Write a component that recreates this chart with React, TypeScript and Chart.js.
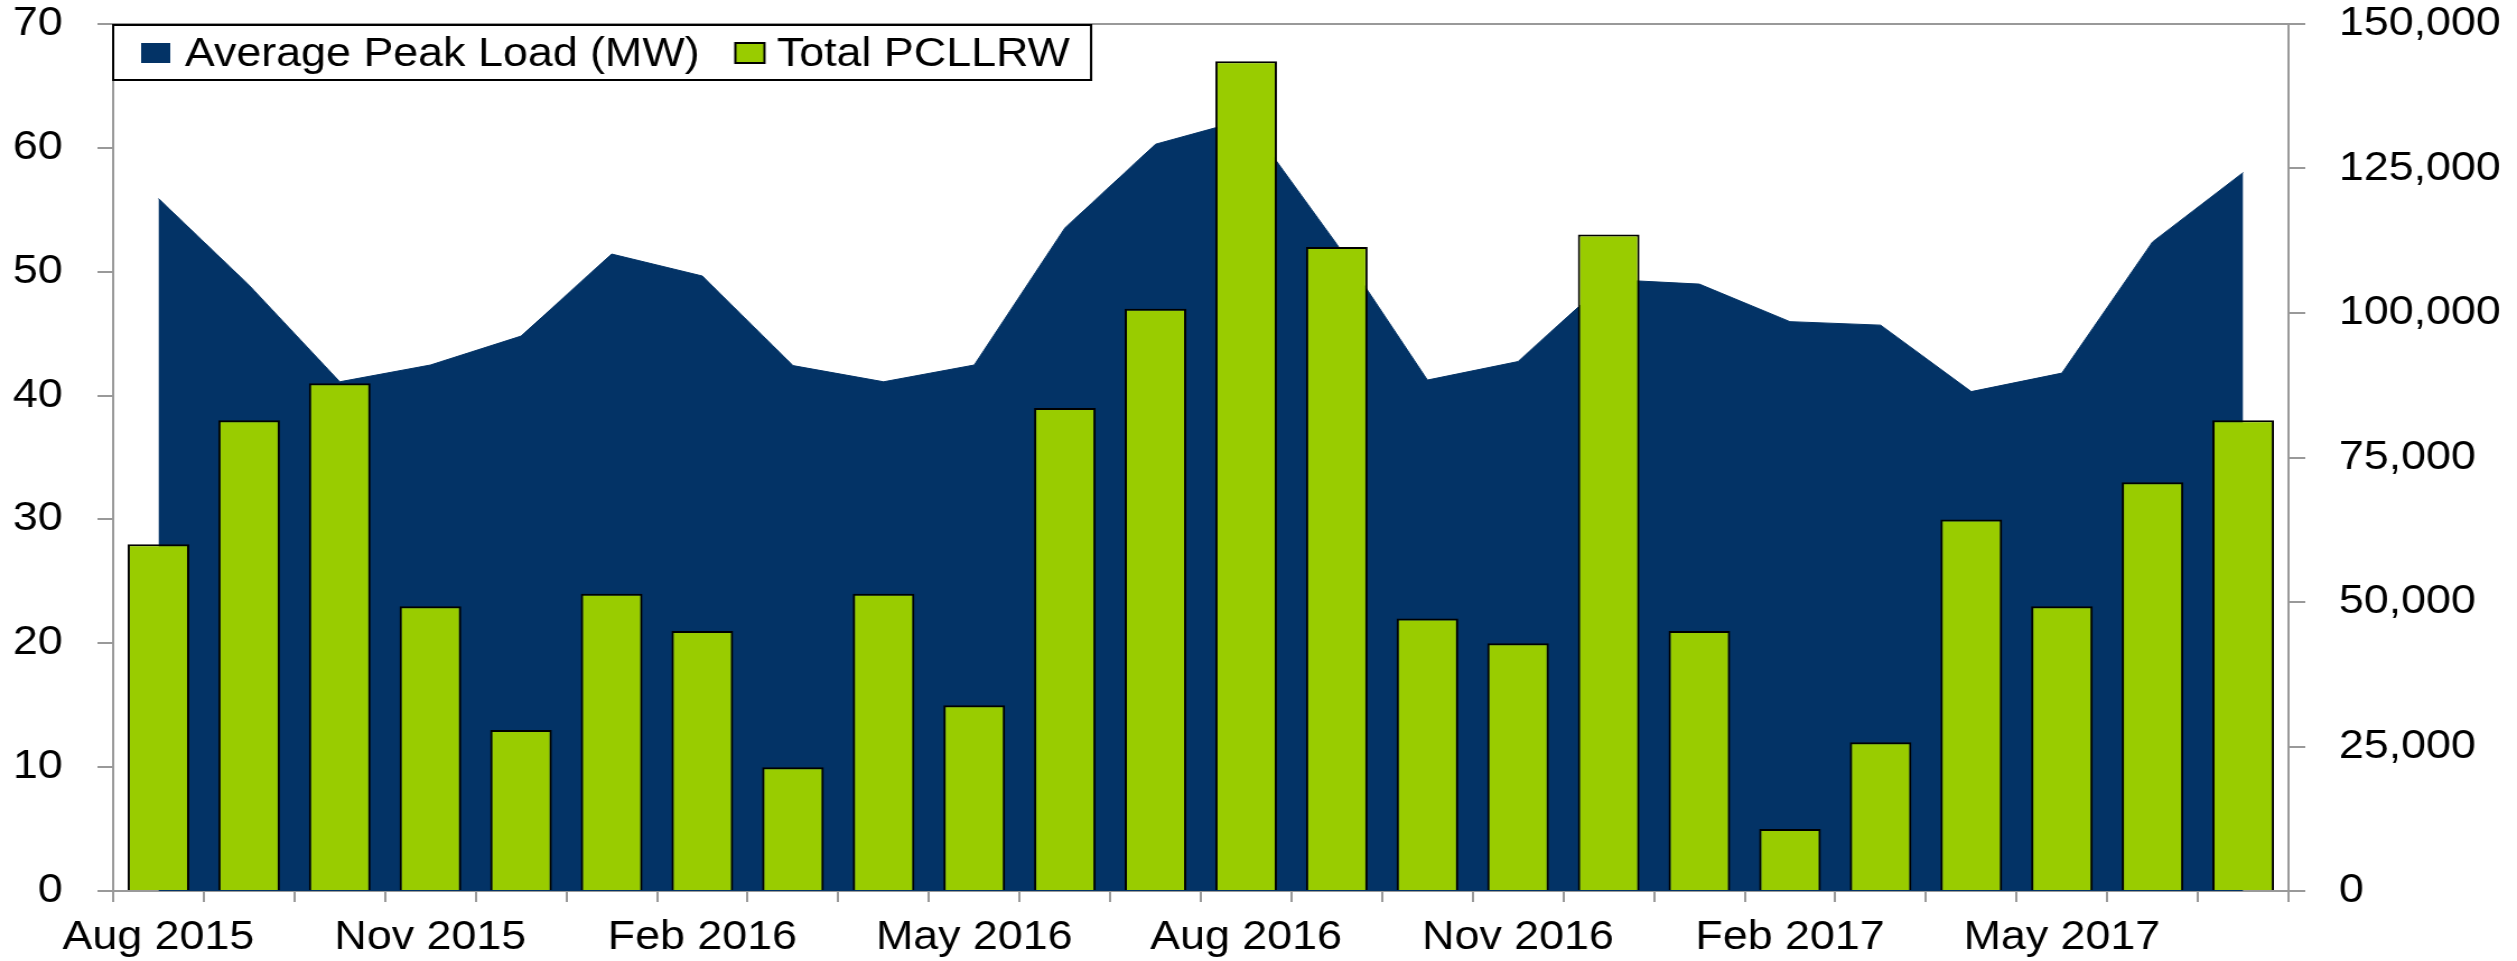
import React, { useEffect, useRef } from "react";
import { Chart, registerables } from "chart.js";

Chart.register(...registerables);

// ---------- data ----------
const months = [
  "Aug 2015", "Sep 2015", "Oct 2015", "Nov 2015", "Dec 2015", "Jan 2016",
  "Feb 2016", "Mar 2016", "Apr 2016", "May 2016", "Jun 2016", "Jul 2016",
  "Aug 2016", "Sep 2016", "Oct 2016", "Nov 2016", "Dec 2016", "Jan 2017",
  "Feb 2017", "Mar 2017", "Apr 2017", "May 2017", "Jun 2017", "Jul 2017",
];
const totalPCLLRW = [28, 38, 41, 23, 13, 24, 21, 10, 24, 15, 39, 47, 67, 52, 22, 20, 53, 21, 5, 12, 30, 23, 33, 38];
const avgPeakLoad = [
  119800, 104800, 88100, 91000, 96000, 110200, 106400, 90900, 88100, 91000, 114700, 129200,
  133500, 111900, 88400, 91600, 105800, 105000, 98500, 97900, 86400, 89600, 112300, 124300,
];
const leftAxis = { min: 0, max: 70, step: 10 };
const rightAxis = { min: 0, max: 150000, step: 25000 };
const legendLabels = ["Average Peak Load (MW)", "Total PCLLRW"];

// ---------- styles ----------
const NAVY = "#033366";
const GREEN = "#99CC00";
const AXIS = "#999999";
const FONT_FAMILY = "'Liberation Sans', Arial, sans-serif";
const FONT_SIZE = 40;

const W = 2517;
const H = 961;
const STRETCH = 1.12;
const IW = Math.round(W / STRETCH);

const boxLegend = {
  id: "boxLegend",
  afterDatasetsDraw(chart: any) {
    const { ctx, chartArea } = chart;
    const left = chartArea.left;
    const top = chartArea.top;
    const boxH = 56;
    ctx.save();
    ctx.font = `${FONT_SIZE}px ${FONT_FAMILY}`;
    const w1 = ctx.measureText(legendLabels[0]).width;
    const w2 = ctx.measureText(legendLabels[1]).width;
    const sw = 26;
    const sh = 20;
    const sw1x = left + 25;
    const t1x = sw1x + sw + 13;
    const sw2x = t1x + w1 + 32;
    const t2x = sw2x + sw + 11;
    const right = t2x + w2 + 19;
    ctx.fillStyle = "#ffffff";
    ctx.fillRect(left, top, right - left, boxH);
    ctx.strokeStyle = "#000000";
    ctx.lineWidth = 2;
    ctx.strokeRect(left, top + 1, right - left, boxH - 1);
    const sy = top + 19;
    ctx.fillStyle = NAVY;
    ctx.fillRect(sw1x, sy, sw, sh);
    ctx.fillStyle = GREEN;
    ctx.fillRect(sw2x, sy, sw, sh);
    ctx.lineWidth = 2;
    ctx.strokeStyle = "#000000";
    ctx.strokeRect(sw2x, sy, sw, sh);
    ctx.fillStyle = "#000000";
    ctx.textBaseline = "alphabetic";
    ctx.textAlign = "left";
    ctx.fillText(legendLabels[0], t1x, top + 42);
    ctx.fillText(legendLabels[1], t2x, top + 42);
    ctx.restore();
  },
};

export default function App() {
  const ref = useRef<HTMLCanvasElement | null>(null);

  useEffect(() => {
    const canvas = ref.current;
    if (!canvas) return;
    const font = { family: FONT_FAMILY, size: FONT_SIZE };
    const chart = new Chart(canvas, {
      type: "bar",
      data: {
        labels: months,
        datasets: [
          {
            type: "bar",
            label: legendLabels[1],
            data: totalPCLLRW,
            yAxisID: "y",
            backgroundColor: GREEN,
            borderColor: "#000000",
            borderWidth: 2,
            barPercentage: 0.68,
            categoryPercentage: 1,
            order: 1,
          } as any,
          {
            type: "line",
            label: legendLabels[0],
            data: avgPeakLoad,
            yAxisID: "y1",
            backgroundColor: NAVY,
            borderColor: NAVY,
            borderWidth: 1,
            pointRadius: 0,
            tension: 0,
            fill: "origin",
            order: 2,
          } as any,
        ],
      },
      options: {
        responsive: false,
        devicePixelRatio: 1,
        animation: false,
        layout: { padding: { top: 24, left: 0, right: 0, bottom: 0 } },
        plugins: {
          legend: { display: false },
          title: { display: false },
          tooltip: { enabled: false },
        },
        scales: {
          x: {
            type: "category",
            offset: true,
            grid: {
              display: true,
              drawOnChartArea: false,
              offset: true,
              tickLength: 11,
              tickColor: AXIS,
              color: AXIS,
              lineWidth: 2,
            },
            border: { display: true, color: AXIS, width: 2 },
            ticks: {
              autoSkip: false,
              maxRotation: 0,
              minRotation: 0,
              padding: 12,
              color: "#000000",
              font,
              callback: (_v: any, i: number) => (i % 3 === 0 ? months[i] : ""),
            },
            afterFit: (s: any) => {
              s.height = 70;
              s.paddingLeft = 0;
              s.paddingRight = 0;
            },
          },
          y: {
            position: "left",
            min: leftAxis.min,
            max: leftAxis.max,
            ticks: { stepSize: leftAxis.step, padding: 31, color: "#000000", font },
            grid: {
              color: (c: any) => (c.tick && c.tick.value === leftAxis.max ? AXIS : "rgba(0,0,0,0)"),
              tickColor: AXIS,
              tickLength: 14,
              lineWidth: 2,
            },
            border: { display: true, color: AXIS, width: 2 },
            afterFit: (s: any) => {
              s.width = 101;
              s.paddingTop = 0;
              s.paddingBottom = 0;
            },
          },
          y1: {
            position: "right",
            min: rightAxis.min,
            max: rightAxis.max,
            ticks: {
              stepSize: rightAxis.step,
              padding: 30,
              color: "#000000",
              font,
              callback: (v: any) => Number(v).toLocaleString("en-US"),
            },
            grid: {
              drawOnChartArea: false,
              tickColor: AXIS,
              color: AXIS,
              tickLength: 15,
              lineWidth: 2,
            },
            border: { display: true, color: AXIS, width: 2 },
            afterFit: (s: any) => {
              s.width = IW - 2043;
              s.paddingTop = 0;
              s.paddingBottom = 0;
            },
          },
        },
      } as any,
      plugins: [boxLegend],
    });
    return () => chart.destroy();
  }, []);

  return (
    <div style={{ position: "absolute", left: 0, top: 0, width: W, height: H, overflow: "hidden", background: "#ffffff" }}>
      <canvas
        ref={ref}
        width={IW}
        height={H}
        style={{ display: "block", width: `${W}px`, height: `${H}px` }}
      />
    </div>
  );
}
